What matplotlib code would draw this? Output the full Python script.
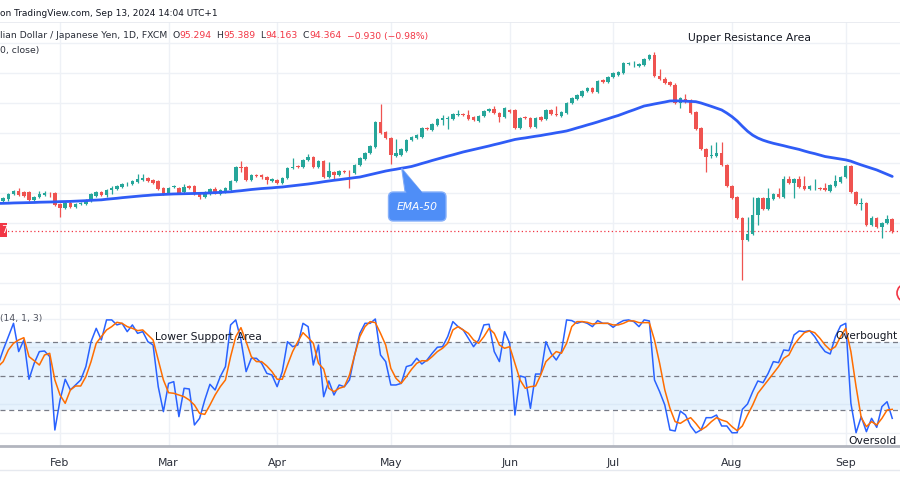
import matplotlib
matplotlib.use('Agg')
import matplotlib.pyplot as plt
import numpy as np
import pandas as pd
from matplotlib.patches import Rectangle, FancyBboxPatch, Polygon, Circle
from matplotlib.lines import Line2D
from matplotlib.transforms import IdentityTransform

# ---------------- data (AUD/JPY daily, FXCM) ----------------
dates = pd.bdate_range('2024-01-16', '2024-09-13')

opens = [
    97.17, 96.83, 97.0, 97.42, 97.67, 97.58, 97.58, 96.92, 97.17, 97.33,
    97.52, 97.5, 96.58, 96.25, 96.67, 96.33, 96.58, 96.58, 96.83, 97.25,
    97.58, 97.33, 97.75, 97.83, 98.0, 98.22, 98.25, 98.42, 98.58, 98.75,
    98.58, 98.5, 97.92, 97.5, 98.0, 97.92, 97.58, 98.08, 98.08, 97.42,
    97.17, 97.42, 97.83, 97.42, 97.58, 97.75, 98.5, 99.67, 99.67, 98.58,
    99.0, 99.0, 98.83, 98.5, 98.58, 98.33, 98.75, 99.58, 99.75, 99.67,
    100.25, 100.5, 99.67, 100.17, 98.83, 99.25, 99.0, 99.33, 99.28, 99.17,
    99.83, 100.33, 100.83, 101.33, 103.42, 102.58, 102.08, 100.58, 100.67, 101.0,
    101.92, 102.08, 102.17, 102.92, 102.75, 103.17, 103.58, 103.7, 103.67, 104.0,
    104.08, 104.0, 103.83, 103.5, 103.92, 104.33, 104.5, 104.17, 103.83, 104.42,
    104.42, 102.92, 103.83, 103.75, 103.0, 103.83, 103.67, 104.42, 104.08, 103.92,
    104.17, 105.0, 105.33, 105.58, 106.0, 106.25, 105.92, 106.92, 106.75, 107.17,
    107.33, 107.5, 108.28, 108.3, 108.08, 108.17, 108.67, 109.0, 107.25, 107.0,
    106.75, 106.5, 105.0, 105.33, 105.25, 104.25, 102.92, 101.17, 100.62, 100.58,
    100.83, 99.83, 98.08, 97.17, 95.42, 93.58, 94.08, 95.67, 97.08, 96.17,
    97.0, 97.42, 97.17, 98.67, 98.33, 98.67, 98.08, 97.83, 98.05, 97.92,
    97.92, 97.67, 98.08, 98.42, 98.83, 99.75, 97.58, 96.62, 96.67, 94.83,
    95.42, 94.67, 95.0, 95.294]

highs = [
    97.25, 97.17, 97.5, 97.75, 97.92, 97.67, 97.67, 97.25, 97.67, 97.67,
    97.6, 97.58, 96.67, 96.83, 96.83, 96.67, 96.75, 97.0, 97.5, 97.67,
    97.67, 97.83, 98.08, 98.17, 98.33, 98.42, 98.58, 99.08, 99.08, 98.83,
    98.67, 98.58, 98.0, 98.0, 98.17, 98.0, 98.25, 98.17, 98.17, 97.5,
    97.67, 97.92, 98.0, 97.83, 98.0, 98.58, 99.75, 100.17, 99.75, 99.08,
    99.08, 99.08, 98.92, 98.75, 98.67, 98.83, 99.67, 100.42, 99.83, 100.33,
    100.75, 100.58, 100.25, 100.25, 100.08, 99.33, 99.42, 99.42, 99.42, 99.92,
    100.5, 100.92, 101.5, 103.5, 104.92, 102.67, 102.17, 102.0, 101.25, 102.0,
    102.25, 102.42, 103.0, 103.0, 103.33, 103.75, 104.0, 103.9, 104.17, 104.42,
    104.17, 104.42, 103.92, 104.0, 104.42, 104.58, 104.75, 104.25, 104.67, 104.5,
    104.5, 103.83, 103.92, 103.83, 103.83, 103.92, 104.5, 104.5, 104.75, 104.33,
    105.08, 105.5, 105.75, 106.08, 106.33, 106.33, 106.92, 107.0, 107.25, 107.58,
    107.67, 108.42, 108.42, 108.5, 108.33, 108.75, 109.08, 109.25, 107.83, 107.17,
    106.83, 106.67, 105.5, 105.75, 105.33, 104.33, 103.0, 101.25, 101.5, 101.75,
    101.75, 99.92, 98.17, 97.25, 95.5, 95.5, 97.17, 97.17, 97.17, 97.92,
    97.5, 97.92, 98.92, 98.92, 98.75, 98.92, 98.92, 98.17, 98.67, 98.0,
    98.33, 98.25, 99.0, 98.92, 99.83, 99.83, 97.67, 97.08, 96.75, 95.58,
    95.5, 95.08, 95.67, 95.389]

lows = [
    96.75, 96.75, 96.85, 97.33, 97.25, 97.17, 96.83, 96.83, 97.08, 97.25,
    97.2, 96.42, 95.5, 96.17, 96.25, 96.25, 96.5, 96.5, 96.75, 97.17,
    97.25, 97.17, 97.42, 97.75, 97.92, 98.08, 98.17, 98.33, 98.5, 98.42,
    98.25, 97.75, 97.33, 97.42, 97.92, 97.42, 97.5, 97.83, 97.33, 97.0,
    97.08, 97.33, 97.42, 97.33, 97.5, 97.67, 98.42, 99.25, 98.5, 98.5,
    98.83, 98.67, 98.25, 98.42, 98.25, 98.25, 98.67, 99.5, 99.58, 99.58,
    100.17, 99.58, 99.58, 98.75, 98.75, 98.67, 98.92, 99.17, 97.92, 99.08,
    99.75, 100.25, 100.75, 101.25, 102.42, 102.0, 99.92, 100.5, 100.58, 100.92,
    101.83, 102.0, 102.08, 102.75, 102.67, 103.08, 103.17, 102.83, 103.58, 103.92,
    103.92, 103.58, 103.5, 103.42, 103.83, 104.25, 104.08, 103.42, 103.75, 104.17,
    102.83, 102.83, 103.67, 102.92, 102.92, 103.5, 103.58, 104.0, 103.92, 103.83,
    104.08, 104.92, 105.25, 105.5, 105.92, 105.83, 105.83, 106.67, 106.67, 107.08,
    107.25, 107.42, 108.17, 108.0, 108.0, 108.08, 108.58, 107.17, 106.92, 106.58,
    106.42, 104.92, 104.58, 105.0, 104.08, 102.75, 101.08, 99.25, 100.42, 100.5,
    99.75, 98.0, 97.0, 95.33, 90.25, 93.5, 94.0, 94.83, 96.08, 96.08,
    96.92, 97.08, 97.08, 98.25, 97.08, 97.92, 97.75, 97.75, 97.75, 97.75,
    97.67, 97.58, 98.0, 98.33, 98.75, 97.5, 96.5, 96.08, 94.75, 94.75,
    94.58, 93.75, 94.92, 94.163]

closes = [
    96.83, 97.08, 97.42, 97.67, 97.33, 97.25, 96.92, 97.17, 97.42, 97.5,
    97.48, 96.5, 96.25, 96.67, 96.33, 96.58, 96.67, 96.92, 97.42, 97.58,
    97.33, 97.75, 97.92, 98.08, 98.25, 98.28, 98.5, 98.67, 98.75, 98.5,
    98.33, 97.83, 97.42, 97.92, 98.08, 97.5, 98.0, 97.92, 97.42, 97.17,
    97.58, 97.83, 97.5, 97.75, 97.92, 98.5, 99.67, 99.58, 98.58, 99.0,
    98.92, 98.83, 98.58, 98.67, 98.33, 98.75, 99.58, 99.67, 99.67, 100.25,
    100.5, 99.67, 100.17, 98.83, 99.33, 99.0, 99.33, 99.25, 99.22, 99.83,
    100.42, 100.83, 101.42, 103.42, 102.5, 102.08, 100.67, 100.83, 101.17, 101.92,
    102.17, 102.33, 102.92, 102.83, 103.25, 103.67, 103.75, 103.78, 104.08, 104.08,
    104.0, 103.67, 103.58, 103.92, 104.33, 104.5, 104.17, 103.83, 104.58, 104.25,
    102.92, 103.75, 103.75, 103.0, 103.75, 103.58, 104.42, 104.08, 104.0, 104.25,
    105.0, 105.42, 105.67, 106.0, 106.25, 105.92, 106.83, 106.75, 107.17, 107.5,
    107.58, 108.33, 108.35, 108.36, 108.25, 108.67, 109.0, 107.25, 107.0, 106.67,
    106.5, 105.0, 105.42, 105.08, 104.17, 102.83, 101.17, 100.5, 100.7, 100.83,
    99.83, 98.08, 97.08, 95.42, 93.58, 94.08, 95.67, 97.08, 96.17, 97.08,
    97.42, 97.17, 98.67, 98.33, 98.67, 98.0, 97.83, 98.08, 98.1, 97.83,
    97.75, 98.17, 98.5, 98.83, 99.75, 97.58, 96.58, 96.7, 94.83, 95.42,
    94.67, 95.0, 95.33, 94.364]

ema50 = [
    96.63, 96.64, 96.65, 96.67, 96.68, 96.69, 96.70, 96.71, 96.73, 96.74,
    96.75, 96.76, 96.78, 96.79, 96.80, 96.82, 96.84, 96.86, 96.89, 96.91,
    96.93, 96.98, 97.02, 97.06, 97.11, 97.15, 97.19, 97.23, 97.27, 97.30,
    97.34, 97.36, 97.38, 97.40, 97.42, 97.43, 97.44, 97.45, 97.46, 97.47,
    97.48, 97.51, 97.53, 97.55, 97.58, 97.60, 97.65, 97.69, 97.74, 97.79,
    97.83, 97.87, 97.90, 97.93, 97.97, 98.00, 98.05, 98.10, 98.15, 98.20,
    98.25, 98.31, 98.37, 98.44, 98.50, 98.56, 98.61, 98.67, 98.72, 98.78,
    98.83, 98.93, 99.03, 99.13, 99.23, 99.33, 99.41, 99.48, 99.56, 99.63,
    99.71, 99.83, 99.96, 100.08, 100.21, 100.33, 100.45, 100.57, 100.68, 100.80,
    100.92, 101.02, 101.12, 101.22, 101.32, 101.42, 101.53, 101.63, 101.74, 101.85,
    101.96, 102.03, 102.09, 102.16, 102.23, 102.29, 102.37, 102.44, 102.52, 102.59,
    102.67, 102.79, 102.92, 103.04, 103.17, 103.29, 103.42, 103.56, 103.69, 103.83,
    103.96, 104.12, 104.28, 104.43, 104.59, 104.75, 104.83, 104.92, 105.00, 105.08,
    105.17, 105.18, 105.17, 105.15, 105.13, 105.11, 105.00, 104.86, 104.72, 104.57,
    104.42, 104.16, 103.86, 103.50, 103.06, 102.65, 102.32, 102.08, 101.90, 101.76,
    101.64, 101.54, 101.44, 101.33, 101.23, 101.13, 101.00, 100.88, 100.78, 100.66,
    100.54, 100.47, 100.40, 100.33, 100.26, 100.15, 99.99, 99.84, 99.70, 99.56,
    99.42, 99.24, 99.06, 98.88]

stoch_k = [
    59.5, 72.7, 84.4, 96.1, 71.3, 81.5, 47.0, 61.0, 71.3, 71.8,
    66.9, 2.5, 28.8, 47.0, 37.6, 42.0, 46.4, 58.1, 80.0, 91.7,
    81.5, 99.1, 99.1, 94.7, 96.1, 88.8, 94.7, 87.3, 88.8, 80.0,
    77.1, 40.5, 18.6, 43.4, 44.9, 14.2, 39.1, 38.5, 6.9, 12.7,
    28.8, 42.6, 37.6, 49.3, 58.1, 94.7, 99.1, 81.5, 53.7, 65.4,
    65.4, 61.0, 52.2, 50.8, 40.5, 53.7, 80.0, 75.6, 77.1, 96.1,
    93.2, 59.5, 77.1, 31.7, 45.5, 33.2, 42.0, 40.5, 46.4, 68.3,
    87.3, 96.1, 96.1, 99.9, 68.3, 62.5, 42.0, 42.0, 43.4, 58.1,
    59.5, 65.4, 60.4, 63.9, 69.8, 75.1, 75.6, 84.4, 97.6, 93.2,
    90.3, 83.0, 75.6, 81.5, 94.7, 95.3, 71.3, 62.5, 88.8, 78.6,
    15.6, 49.9, 48.7, 21.5, 51.6, 51.6, 80.0, 69.8, 63.9, 71.3,
    99.1, 98.5, 96.1, 97.6, 96.1, 93.2, 98.5, 96.1, 96.1, 92.6,
    96.1, 98.5, 99.1, 97.6, 93.2, 99.1, 98.2, 46.4, 36.1, 24.4,
    2.5, 1.6, 19.1, 15.6, 6.0, 0.0, 2.5, 13.3, 13.3, 15.6,
    6.0, 6.0, 0.0, 0.1, 20.6, 25.3, 36.1, 45.5, 44.0, 52.2,
    62.5, 61.6, 72.7, 72.1, 85.9, 89.4, 88.8, 89.7, 84.4, 77.1,
    71.3, 69.2, 84.4, 93.8, 96.1, 25.9, 0.1, 14.2, 1.0, 12.7,
    4.8, 23.0, 27.3, 12.7]

stoch_d = [
    58.1, 62.5, 72.7, 78.6, 81.5, 83.5, 66.9, 63.3, 59.5, 68.3,
    69.8, 46.4, 33.2, 25.9, 37.6, 41.1, 41.1, 49.3, 62.5, 78.6,
    84.4, 90.3, 93.2, 97.0, 96.1, 93.2, 91.7, 89.7, 90.3, 85.9,
    81.5, 63.9, 46.4, 35.2, 34.7, 33.2, 31.7, 28.8, 24.4, 17.1,
    16.2, 24.4, 33.2, 40.5, 46.4, 66.9, 84.4, 92.3, 80.0, 66.9,
    62.5, 62.5, 58.7, 53.7, 47.0, 47.0, 59.5, 71.3, 80.0, 87.9,
    83.5, 78.6, 61.0, 56.0, 39.1, 36.1, 39.1, 40.5, 50.8, 68.3,
    84.4, 93.2, 97.6, 96.7, 87.3, 77.1, 56.6, 47.8, 43.4, 49.3,
    55.7, 61.0, 63.3, 63.1, 66.9, 71.3, 74.2, 78.6, 90.3, 93.2,
    90.3, 87.3, 81.5, 78.6, 84.4, 91.7, 87.3, 77.1, 74.2, 75.6,
    61.0, 46.4, 39.1, 40.5, 41.1, 50.8, 62.5, 66.9, 71.3, 69.8,
    78.6, 93.2, 97.6, 97.6, 97.0, 95.5, 96.1, 96.1, 96.1, 94.7,
    94.7, 96.1, 98.2, 98.2, 96.7, 96.7, 96.7, 81.5, 61.0, 37.6,
    21.5, 9.8, 8.3, 11.2, 13.3, 8.3, 2.5, 5.4, 9.8, 13.3,
    11.2, 9.8, 5.4, 1.9, 6.0, 15.6, 24.4, 34.7, 40.5, 46.4,
    52.2, 58.1, 65.4, 68.3, 77.1, 83.0, 87.9, 89.4, 87.9, 83.0,
    77.1, 72.7, 75.6, 84.4, 91.7, 71.3, 40.5, 13.3, 5.4, 9.8,
    6.9, 12.7, 20.0, 20.6]

price_grid = [90, 92.5, 95, 97.5, 100, 102.5, 105, 107.5, 110]
stoch_levels = [20, 50, 80]
stoch_grid = [0, 25, 75, 100, 113]

# ---------------- layout helpers ----------------
W, H = 900, 500
fig = plt.figure(figsize=(9, 5), dpi=100)
fig.patch.set_facecolor('white')
renderer = fig.canvas.get_renderer()
PIX = IdentityTransform()

GRID = '#eef1f6'
TXT = '#131722'
DARK = '#2a2e39'
GREEN = '#26a69a'
RED = '#ef5350'

ax1 = fig.add_axes([0, 1 - 297 / H, 1, (297 - 22) / H])
ax2 = fig.add_axes([0, 1 - 445.7 / H, 1, (445.7 - 297) / H])
XL = (0.387, 174.5)

idx = np.arange(len(dates))
o = np.array(opens); c = np.array(closes)
h = np.array(highs); l = np.array(lows)
up = c >= o
cols = np.where(up, GREEN, RED)

month_pos = [i for i in range(1, len(dates)) if dates[i].month != dates[i - 1].month]
month_lab = [dates[i].strftime('%b') for i in month_pos]

for ax in (ax1, ax2):
    ax.set_xlim(*XL)
    ax.set_facecolor('none')
    for s in ax.spines.values():
        s.set_visible(False)
    ax.tick_params(left=False, labelleft=False, bottom=False, labelbottom=False)
    for m in month_pos:
        ax.axvline(m, color=GRID, lw=1, zorder=0)

# ---- price panel ----
ax1.set_ylim(88.833, 111.75)
for g in price_grid:
    ax1.axhline(g, color=GRID, lw=1, zorder=0)
ax1.axhline(111.75, color='#e6e9ef', lw=1.2, zorder=0)
ax1.vlines(idx, l, h, colors=cols, linewidth=0.9, zorder=3)
body_h = np.maximum(np.abs(c - o), 0.05)
ax1.bar(idx, body_h, bottom=np.minimum(o, c), width=0.68, color=cols,
        linewidth=0, zorder=4)
ax1.plot(idx, ema50, color='#2f5cf6', lw=2.0, zorder=5, solid_capstyle='round')
ax1.axhline(closes[-1], color='#f23645', lw=0.9, ls=(0, (1, 2)), zorder=2)

# ---- stochastic panel ----
ax2.set_ylim(-11.3, 119.2)
for g in stoch_grid:
    ax2.axhline(g, color=GRID, lw=1, zorder=0)
ax2.axhspan(stoch_levels[0], stoch_levels[2], color='#e6f2fd', zorder=0.5, lw=0)
for g in (25, 75):
    ax2.axhline(g, color='#dbe9f7', lw=1, zorder=0.6)
for g in stoch_levels:
    ax2.axhline(g, color='#787b86', lw=0.9, ls=(0, (4, 3)), zorder=1)
ax2.plot(idx, stoch_k, color='#2962ff', lw=1.1, zorder=3)
ax2.plot(idx, stoch_d, color='#ff6d00', lw=1.1, zorder=4)
ax2.spines['bottom'].set_visible(True)
ax2.spines['bottom'].set_color('#b2b5be')
ax2.spines['bottom'].set_linewidth(2)
ax2.set_xticks(month_pos)
ax2.set_xticklabels(month_lab)
ax2.tick_params(bottom=False, labelbottom=True, pad=5, labelsize=7.8,
                labelcolor=DARK)

fig.add_artist(Line2D([0, 1], [1 - 470 / H, 1 - 470 / H], color='#e6e9ef', lw=1,
                      transform=fig.transFigure))


# ---------------- texts ----------------
def put(x, y, s, width=None, size=8.0, ha='left', color=TXT, **kw):
    t = fig.text(x / W, 1 - y / H, s, fontsize=size, ha=ha, va='center',
                 color=color, **kw)
    if width:
        bb = t.get_window_extent(renderer)
        t.set_fontsize(size * width / bb.width)
    return t

put(0, 13, 'on TradingView.com, Sep 13, 2024 14:04 UTC+1', width=218)

# legend line: pieces laid out one after the other, whole line fitted to ~425 px
RV = '#f23645'
legend_pieces = [('lian Dollar / Japanese Yen, 1D, FXCM', DARK, 1.0),
                 ('O', DARK, 0.0), ('95.294', RV, 1.0),
                 ('H', DARK, 0.0), ('95.389', RV, 1.0),
                 ('L', DARK, 0.0), ('94.163', RV, 1.0),
                 ('C', DARK, 0.0), ('94.364', RV, 1.0),
                 ('\u22120.930 (\u22120.98%)', RV, 0.0)]


def layout_legend(fs):
    texts = []
    x = 0.0
    for s, col, gap in legend_pieces:
        t = put(x, 36, s, size=fs, color=col)
        w = t.get_window_extent(renderer).width
        texts.append(t)
        x += w + gap * fs * 0.75
    return texts, x


fs = 7.4
texts, total = layout_legend(fs)
for t in texts:
    t.remove()
fs = fs * 425 / total
texts, total = layout_legend(fs)

put(0, 51, '0, close)', size=fs, color=DARK)

put(688, 38, 'Upper Resistance Area', width=122)
put(155, 337, 'Lower Support Area', width=107)
put(897, 336, 'Overbought', width=62, ha='right')
put(897, 441, 'Oversold', width=48, ha='right')
put(0, 318, '(14, 1, 3)', size=fs, color='#50535e')

# left price label (cut off)
fig.add_artist(Rectangle((0, H - 237), 6.5, 14, transform=PIX, color='#f23645', lw=0))
fig.text(1.5 / W, 1 - 230 / H, '7', color='white', fontsize=7.5, va='center', ha='left')

# EMA-50 callout
box_c = '#4f8ef7'
fig.add_artist(Polygon([(401.7, H - 168.3), (405.5, H - 195), (424, H - 195)],
                       closed=True, transform=PIX, fc=box_c, ec='#7faaf8', lw=0.8,
                       zorder=6))
fig.add_artist(FancyBboxPatch((388.5, H - 221), 57.5, 29,
                              boxstyle='round,pad=0,rounding_size=5', transform=PIX,
                              fc=box_c, ec='#86b0fa', lw=1.0, zorder=6))
fig.add_artist(Polygon([(402.5, H - 170), (406.5, H - 193.5), (423, H - 193.5)],
                       closed=True, transform=PIX, fc=box_c, ec='none', zorder=7))
t = fig.text(417 / W, 1 - 207 / H, 'EMA-50', color='white', fontsize=9,
             style='italic', ha='center', va='center', zorder=8)
bb = t.get_window_extent(renderer)
t.set_fontsize(9 * 41 / bb.width)

# partial red circle icon at right edge
fig.add_artist(Circle((906, H - 293), 9, transform=PIX, fill=False,
                      ec='#f23645', lw=1.2))

fig.savefig('out.png', dpi=100, facecolor='white')
